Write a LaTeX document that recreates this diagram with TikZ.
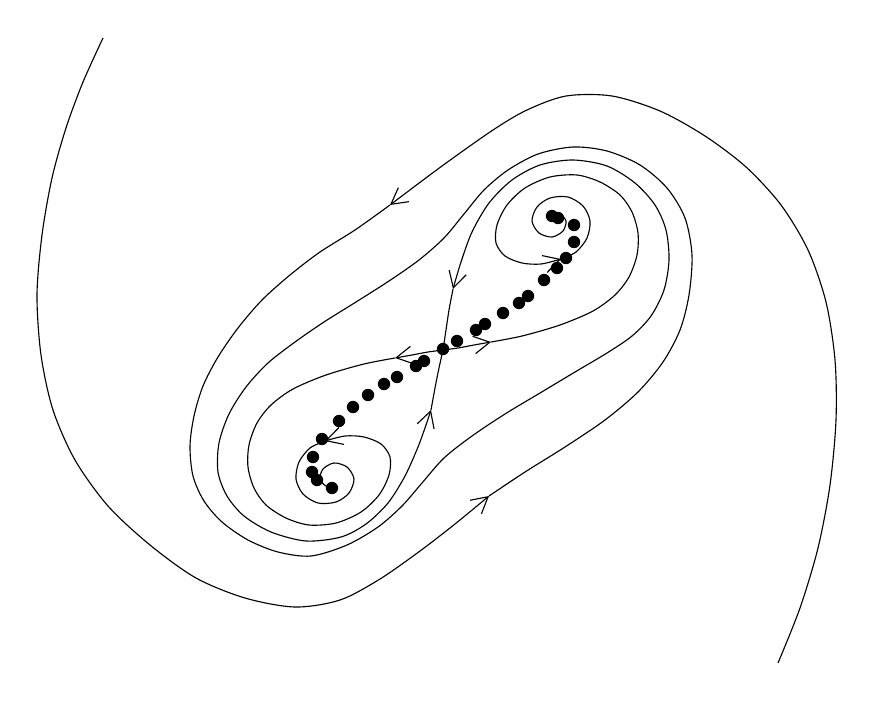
\documentclass[tikz,border=0pt]{standalone}
\usepackage{tikz}
\usetikzlibrary{arrows.meta}
\definecolor{PhaseLine}{HTML}{000000}
\definecolor{PhaseDot}{HTML}{000000}

\begin{document}
\begin{tikzpicture}[x=0.025cm,y=-0.025cm,
    flow/.style={PhaseLine,line width=0.8pt,line join=round},
    >={Straight Barb[length=0.4cm,width=0.44cm]}]
  \useasboundingbox (0,0) rectangle (895,724);

  % stable branch coming in from below
  \draw[flow,->] plot[smooth] coordinates {(103,38) (83,82) (66,128) (52,178) (42,235) (37,295) (41,355) (53,410) (75,460) (108,506) (150,545) (196,578) (245,598) (295,607) (340,600) (380,579) (420,551) (455,524) (489,496)};
  \draw[flow,->] plot[smooth] coordinates {(489,496) (525,472) (565,447) (605,420) (638,392) (663,362) (680,330) (689,295) (692,255) (685,218) (667,188) (640,165) (607,151) (573,147) (538,154) (508,170) (484,190) (464,214) (444,238) (419,260) (389,281) (356,302) (324,322) (295,342) (268,363) (246,387) (229,414) (219,443) (218,472) (227,496) (244,516) (271,532) (306,541) (341,537) (366,524) (388,503) (405,476) (418,447) (426,425) (431,410)};
  \draw[flow] plot[smooth] coordinates {(431,410) (435,388) (439,368) (443,350)};

  % stable branch coming in from above
  \draw[flow,->] plot[smooth] coordinates {(778,663) (800,608) (818,548) (830,485) (836,420) (835,360) (826,302) (808,250) (781,205) (746,167) (705,136) (660,111) (612,96) (566,96) (527,110) (493,130) (442,166) (390,205)};
  \draw[flow,->] plot[smooth] coordinates {(390,205) (355,230) (320,252) (290,275) (262,300) (238,328) (218,357) (203,386) (194,416) (190,446) (193,476) (204,501) (222,522) (248,540) (278,552) (311,556) (347,545) (378,527) (402,506) (422,483) (444,458) (472,436) (505,414) (540,393) (575,372) (607,353) (632,336) (651,316) (664,290) (669,260) (666,230) (655,205) (635,183) (607,166) (573,160) (540,165) (512,180) (489,203) (472,232) (461,262) (453,289)};
  \draw[flow] plot[smooth] coordinates {(453,289) (449,310) (446,330) (443,350)};

  % unstable branch to the right
  \draw[flow,->] plot[smooth] coordinates {(443,350) (458,348) (474,345) (491,342)};
  \draw[flow,->] plot[smooth] coordinates {(491,342) (522,336) (560,325) (593,311) (615,295) (629,277) (637,255) (638,233) (632,212) (620,195) (600,182) (577,175) (550,177) (525,188) (507,205) (497,225) (496,243) (505,256) (522,263) (541,264) (561,259)};
  \draw[flow] plot[smooth] coordinates {(561,259) (576,252) (587,238) (590,221) (583,206) (568,197) (550,198) (537,207) (532,221) (539,233) (552,237) (563,231) (566,221) (560,214) (554,215)};

  % unstable branch to the left
  \draw[flow,->] plot[smooth] coordinates {(443,350) (428,352) (412,355) (395,358)};
  \draw[flow,->] plot[smooth] coordinates {(395,358) (364,364) (326,375) (293,389) (271,405) (257,423) (249,445) (248,467) (254,488) (266,505) (286,518) (309,525) (336,523) (361,512) (379,495) (389,475) (390,457) (381,444) (364,437) (345,436) (325,441)};
  \draw[flow] plot[smooth] coordinates {(325,441) (310,448) (299,462) (296,479) (303,494) (318,503) (336,502) (349,493) (354,479) (347,467) (334,463) (323,469) (320,479) (326,486) (332,485)};

  % computed points
  \fill[PhaseDot] (552,216) circle[radius=0.155cm];
  \fill[PhaseDot] (558,218) circle[radius=0.155cm];
  \fill[PhaseDot] (574,225) circle[radius=0.155cm];
  \fill[PhaseDot] (574,242) circle[radius=0.155cm];
  \fill[PhaseDot] (566,258) circle[radius=0.155cm];
  \fill[PhaseDot] (557,268) circle[radius=0.155cm];
  \fill[PhaseDot] (544,280) circle[radius=0.155cm];
  \fill[PhaseDot] (528,296) circle[radius=0.155cm];
  \fill[PhaseDot] (519,303) circle[radius=0.155cm];
  \fill[PhaseDot] (503,313) circle[radius=0.155cm];
  \fill[PhaseDot] (485,324) circle[radius=0.155cm];
  \fill[PhaseDot] (476,330) circle[radius=0.155cm];
  \fill[PhaseDot] (457,341) circle[radius=0.155cm];
  \fill[PhaseDot] (443,349) circle[radius=0.155cm];
  \fill[PhaseDot] (424,361) circle[radius=0.155cm];
  \fill[PhaseDot] (416,366) circle[radius=0.155cm];
  \fill[PhaseDot] (397,377) circle[radius=0.155cm];
  \fill[PhaseDot] (384,384) circle[radius=0.155cm];
  \fill[PhaseDot] (368,395) circle[radius=0.155cm];
  \fill[PhaseDot] (353,407) circle[radius=0.155cm];
  \fill[PhaseDot] (339,421) circle[radius=0.155cm];
  \fill[PhaseDot] (322,439) circle[radius=0.155cm];
  \fill[PhaseDot] (313,457) circle[radius=0.155cm];
  \fill[PhaseDot] (312,472) circle[radius=0.155cm];
  \fill[PhaseDot] (317,480) circle[radius=0.155cm];
  \fill[PhaseDot] (332,488) circle[radius=0.155cm];
\end{tikzpicture}
\end{document}
